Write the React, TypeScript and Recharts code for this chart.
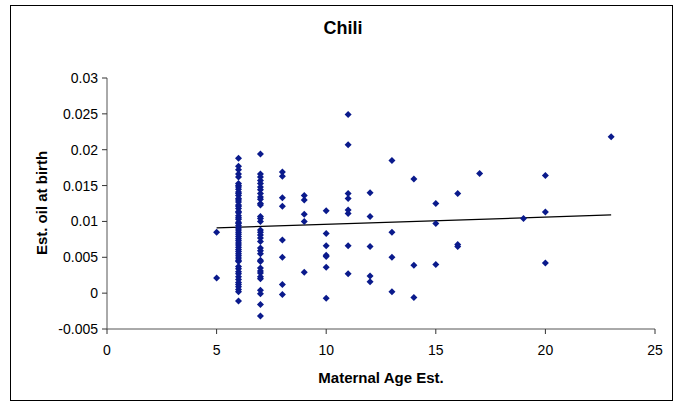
import React from "react";
import {
  ScatterChart,
  Scatter,
  XAxis,
  YAxis,
  ReferenceLine,
} from "recharts";

// maternal age estimate -> estimated oil at birth, one list per age column
const age5 = [0.0085, 0.0021];
const age6 = [
  0.0188, 0.0177, 0.0172, 0.0166, 0.0162, 0.0153, 0.0150, 0.0148, 0.0145,
  0.0141, 0.0139, 0.0136, 0.0132, 0.0130, 0.0127, 0.0123, 0.0121, 0.0118,
  0.0114, 0.0112, 0.0108, 0.0105, 0.0103, 0.0099, 0.0097, 0.0094, 0.0091,
  0.0088, 0.0085, 0.0082, 0.0079, 0.0076, 0.0073, 0.0070, 0.0067, 0.0064,
  0.0061, 0.0058, 0.0055, 0.0052, 0.0049, 0.0046, 0.0044, 0.0037, 0.0034,
  0.0030, 0.0027, 0.0023, 0.0019, 0.0015, 0.0012, 0.0009, 0.0005, 0.0002,
  -0.0011,
];
const age7 = [
  0.0194, 0.0166, 0.0162, 0.0157, 0.0153, 0.0148, 0.0144, 0.0139, 0.0134,
  0.0131, 0.0125, 0.0123, 0.0107, 0.0104, 0.01, 0.0088, 0.0085, 0.0081,
  0.0077, 0.0072, 0.0063, 0.0059, 0.0055, 0.0046, 0.0044, 0.0035, 0.0031,
  0.0028, 0.0023, 0.002, 0.0004, -0.0001, -0.0016, -0.0032,
];
const age8 = [0.0169, 0.0163, 0.0133, 0.0121, 0.0074, 0.005, 0.0012, -0.0002];
const age9 = [0.0136, 0.013, 0.011, 0.01, 0.0029];
const age10 = [0.0115, 0.0083, 0.0066, 0.0053, 0.0051, 0.0036, -0.0007];
const age11 = [0.0249, 0.0207, 0.0139, 0.0132, 0.0116, 0.0111, 0.0066, 0.0027];
const age12 = [0.014, 0.0107, 0.0065, 0.0024, 0.0016];
const age13 = [0.0185, 0.0085, 0.005, 0.0002];
const age14 = [0.0159, 0.0039, -0.0006];
const age15 = [0.0125, 0.0097, 0.004];
const age16 = [0.0139, 0.0068, 0.0065];
const age17 = [0.0167];
const age19 = [0.0104];
const age20 = [0.0164, 0.0113, 0.0042];
const age23 = [0.0218];

const columns: [number, number[]][] = [
  [5, age5],
  [6, age6],
  [7, age7],
  [8, age8],
  [9, age9],
  [10, age10],
  [11, age11],
  [12, age12],
  [13, age13],
  [14, age14],
  [15, age15],
  [16, age16],
  [17, age17],
  [19, age19],
  [20, age20],
  [23, age23],
];

const trendX = [5, 23];
const trendY = [0.0091, 0.0109];

const xTicks = [0, 5, 10, 15, 20, 25];
const yTicks = [-0.005, 0, 0.005, 0.01, 0.015, 0.02, 0.025, 0.03];

const points = columns.flatMap(([age, vals]) =>
  vals.map((oil) => ({ age, oil }))
);

const FONT = "'Liberation Sans', Arial, sans-serif";
const NAVY = "#0a1a8c";

const Diamond = (props: any) => {
  const { cx, cy } = props;
  if (cx == null || cy == null) return null;
  const r = 3.5;
  return (
    <path
      d={`M${cx},${cy - r}L${cx + r},${cy}L${cx},${cy + r}L${cx - r},${cy}Z`}
      fill={NAVY}
    />
  );
};

export default function App() {
  return (
    <div
      style={{
        position: "absolute",
        left: 0,
        top: 0,
        width: 683,
        height: 406,
        background: "#fff",
        fontFamily: FONT,
      }}
    >
      <div
        style={{
          position: "absolute",
          left: 10,
          top: 5,
          width: 661,
          height: 394,
          border: "1px solid #000",
        }}
      />
      <div
        style={{
          position: "absolute",
          left: 0,
          width: 686,
          top: 18,
          textAlign: "center",
          fontSize: 18,
          fontWeight: "bold",
        }}
      >
        Chili
      </div>
      <div
        style={{
          position: "absolute",
          left: 381,
          top: 369,
          transform: "translateX(-50%)",
          whiteSpace: "nowrap",
          fontSize: 15,
          fontWeight: "bold",
        }}
      >
        Maternal Age Est.
      </div>
      <div
        style={{
          position: "absolute",
          left: 41,
          top: 203,
          transform: "translate(-50%, -50%) rotate(-90deg)",
          whiteSpace: "nowrap",
          fontSize: 15,
          fontWeight: "bold",
        }}
      >
        Est. oil at birth
      </div>
      <div style={{ position: "absolute", left: 0, top: 0 }}>
        <ScatterChart
          width={683}
          height={406}
          margin={{ top: 78, right: 28, bottom: 47, left: 47 }}
        >
          <XAxis
            type="number"
            dataKey="age"
            domain={[0, 25]}
            ticks={xTicks}
            height={30}
            tickSize={5}
            tickMargin={11}
            tick={{ fill: "#000", fontSize: 14, fontFamily: FONT }}
            tickLine={{ stroke: "#333" }}
            axisLine={{ stroke: "#555" }}
          />
          <YAxis
            type="number"
            dataKey="oil"
            domain={[-0.005, 0.03]}
            ticks={yTicks}
            width={60}
            tickSize={5}
            tickMargin={4}
            tick={{ fill: "#000", fontSize: 14, fontFamily: FONT }}
            tickLine={{ stroke: "#333" }}
            axisLine={{ stroke: "#555" }}
          />
          <Scatter
            data={points}
            shape={<Diamond />}
            isAnimationActive={false}
          />
          <ReferenceLine
            segment={[
              { x: trendX[0], y: trendY[0] },
              { x: trendX[1], y: trendY[1] },
            ]}
            stroke="#000"
            strokeWidth={1.2}
          />
        </ScatterChart>
      </div>
    </div>
  );
}
